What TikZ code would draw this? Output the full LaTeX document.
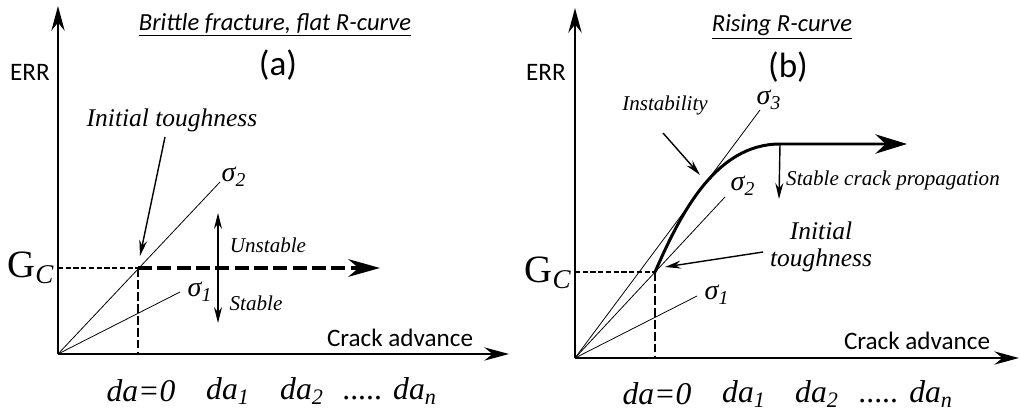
\documentclass[tikz,border=0pt]{standalone}
\usepackage{fontspec}
\setmainfont{Liberation Serif}
\newfontfamily\calibfont{Carlito}
\usetikzlibrary{arrows.meta}

\newcommand{\stress}[1]{σ\textsubscript{#1}}

\begin{document}
\begin{tikzpicture}[x=0.02cm, y=-0.02cm, >={Stealth[length=9pt,width=4.5pt]},
	axis/.style={line width=1.3pt, -{Stealth[length=14pt,width=7.5pt]}},
	ray/.style={line width=0.45pt},
	guide/.style={line width=1pt, dash pattern=on 3pt off 1.4pt},
	drop/.style={line width=1.4pt, dash pattern=on 5pt off 1.8pt},
	path/.style={line width=2.3pt, dash pattern=on 8pt off 3pt, -{Stealth[length=18pt,width=10pt]}},
	rcurve/.style={line width=1.7pt, -{Stealth[length=18pt,width=11pt]}},
	pointer/.style={line width=0.8pt, ->},
	txt/.style={inner sep=0pt, font=\fontsize{12}{14}\selectfont\itshape},
	big/.style={inner sep=0pt, font=\fontsize{14.5}{15}\selectfont\itshape, align=center},
	sig/.style={inner sep=0pt, font=\fontsize{16}{18}\selectfont\itshape},
	tick/.style={inner sep=0pt, font=\fontsize{18}{20}\selectfont\itshape},
	sans/.style={inner sep=0pt, font=\fontsize{14.3}{16}\selectfont\calibfont},
	title/.style={inner sep=0pt, font=\fontsize{14}{16}\selectfont\calibfont\itshape},
	panel/.style={inner sep=0pt, font=\fontsize{20}{22}\selectfont\calibfont},
	gc/.style={inner sep=0pt, font=\fontsize{22}{24}\selectfont}]
\useasboundingbox (0,0) rectangle (1020,412);

% (a) flat R-curve
\coordinate (Oa) at (58,354);
\coordinate (ya) at (58,6);
\coordinate (xa) at (509,354);
\coordinate (gca) at (138,268);
\coordinate (gcya) at (58,268);
\coordinate (gcxa) at (138,354);
\coordinate (enda) at (380,268);
\coordinate (s2a) at (220,182);
\coordinate (s1a) at (180,292);
\coordinate (upa) at (218,213);
\coordinate (dna) at (218,323);
\coordinate (ita0) at (165,137);
\coordinate (ita1) at (140,256);

\draw[axis] (Oa) -- (ya);
\draw[axis] (Oa) -- (xa);
\draw[guide] (gcya) -- (gca);
\draw[drop] (gca) -- (gcxa);
\draw[path] (gca) -- (enda);
\draw[ray] (Oa) -- (s2a);
\draw[ray] (Oa) -- (s1a);
\draw[<->, line width=0.8pt] (upa) -- (dna);
\draw[pointer] (ita0) -- (ita1);

\node[title] (tta) at (275,25) {\underline{Brittle fracture, flat R-curve}};
\node[panel] (pa) at (278,65) {(a)};
\node[sans] (erra) at (30,72) {ERR};
\node[gc] (gcla) at (31,268) {G\textsubscript{\itshape C}};
\node[sans] (cra) at (400,338) {Crack advance};
\node[big] (ita) at (172,120) {Initial toughness};
\node[sig] (s2la) at (234,177) {\stress{2}};
\node[sig] (s1la) at (200,292) {\stress{1}};
\node[txt] (una) at (268,245) {Unstable};
\node[txt] (sta) at (256,303) {Stable};
\node[tick] (da0a) at (141,391) {da=0};
\node[tick] (da1a) at (228,391) {da\textsubscript{1}};
\node[tick] (da2a) at (302,391) {da\textsubscript{2}};
\node[tick] (dana) at (390,391) {..... da\textsubscript{n}};

% (b) rising R-curve
\coordinate (Ob) at (575,358);
\coordinate (yb) at (575,8);
\coordinate (xb) at (1019,358);
\coordinate (gcb) at (655,272);
\coordinate (gcyb) at (575,272);
\coordinate (gcxb) at (655,358);
\coordinate (topb) at (780,144);
\coordinate (endb) at (907,144);
\coordinate (stb) at (779,199);
\coordinate (s3b) at (760,110);
\coordinate (s2b) at (725,197);
\coordinate (s1b) at (697,296);
\coordinate (inb0) at (663,133);
\coordinate (inb1) at (700,175);
\coordinate (itb0) at (763,252);
\coordinate (itb1) at (665,267);

\draw[axis] (Ob) -- (yb);
\draw[axis] (Ob) -- (xb);
\draw[guide] (gcyb) -- (gcb);
\draw[drop] (gcb) -- (gcxb);
\draw[ray] (Ob) -- (s3b);
\draw[ray] (Ob) -- (s2b);
\draw[ray] (Ob) -- (s1b);
\draw[rcurve] (gcb) .. controls (680,215) and (715,144) .. (topb) -- (endb);
\draw[pointer] (topb) -- (stb);
\draw[pointer] (inb0) -- (inb1);
\draw[pointer] (itb0) -- (itb1);

\node[title] (ttb) at (782,27) {\underline{Rising R-curve}};
\node[panel] (pb) at (788,67) {(b)};
\node[sans] (errb) at (546,72) {ERR};
\node[gc] (gclb) at (548,273) {G\textsubscript{\itshape C}};
\node[sans] (crb) at (917,341) {Crack advance};
\node[txt] (inb) at (665,105) {Instability};
\node[txt] (stlb) at (893,180) {Stable crack propagation};
\node[big] (itb) at (821,247) {Initial\\toughness};
\node[sig] (s3lb) at (769,100) {\stress{3}};
\node[sig] (s2lb) at (743,186) {\stress{2}};
\node[sig] (s1lb) at (717,295) {\stress{1}};
\node[tick] (da0b) at (657,394) {da=0};
\node[tick] (da1b) at (744,394) {da\textsubscript{1}};
\node[tick] (da2b) at (817,394) {da\textsubscript{2}};
\node[tick] (danb) at (906,394) {..... da\textsubscript{n}};
\end{tikzpicture}
\end{document}
